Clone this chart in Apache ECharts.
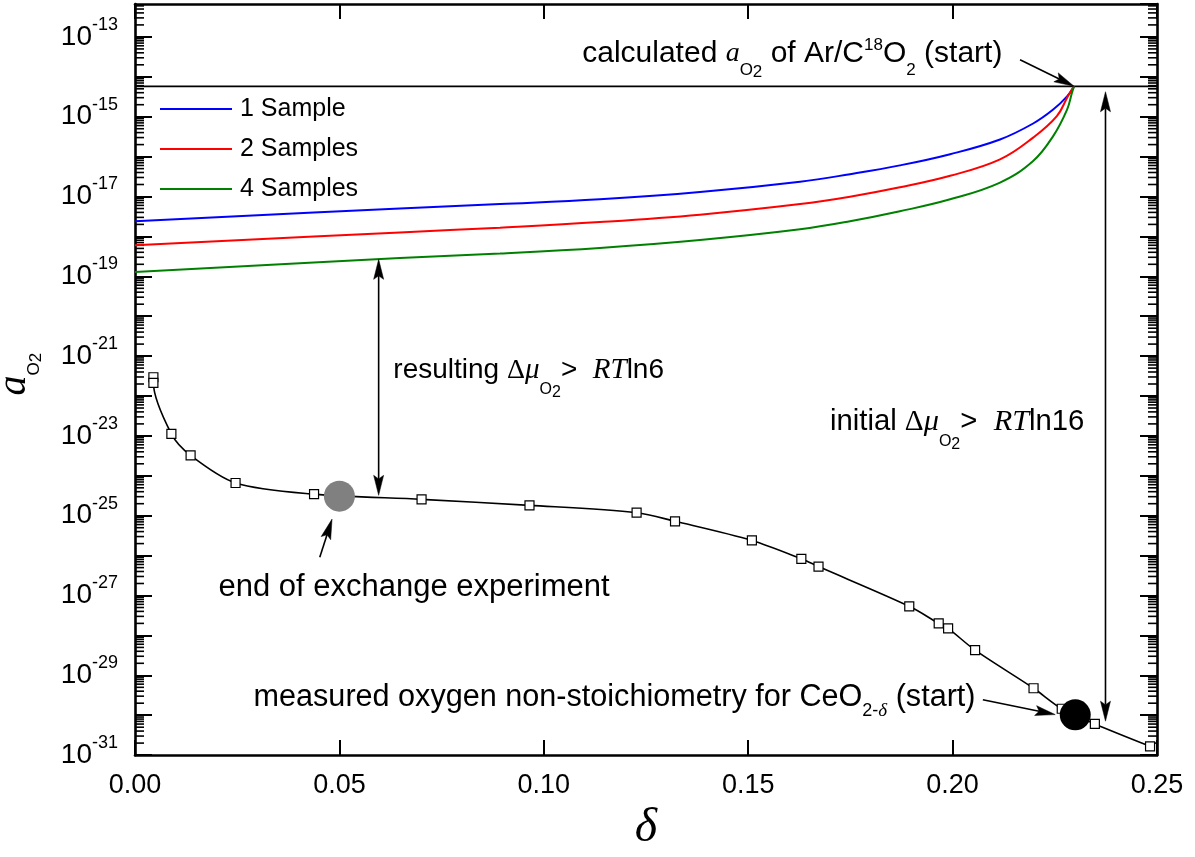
<!DOCTYPE html>
<html>
<head>
<meta charset="utf-8">
<script src="https://cdn.jsdelivr.net/npm/echarts@6/dist/echarts.min.js"></script>
<style>
html,body{margin:0;padding:0;background:#fff;}
#chart{width:1195px;height:857px;}
</style>
</head>
<body>
<div id="chart"></div>
<script>
// ---------------- data ----------------
// measured oxygen non-stoichiometry of CeO2-delta : delta vs a_O2
const deltaMeasured = [0.0045, 0.0045, 0.0089, 0.0136, 0.0246, 0.0438, 0.0701, 0.0965, 0.1227, 0.1321,
                       0.1509, 0.1630, 0.1672, 0.1894, 0.1966, 0.1989, 0.2055, 0.2198, 0.2267, 0.2348, 0.2483];
const aMeasured = [2.95e-22, 2.14e-22, 1.12e-23, 3.24e-24, 6.61e-25, 3.47e-25, 2.57e-25, 1.82e-25, 1.19e-25, 7.24e-26,
                   2.40e-26, 8.32e-27, 5.31e-27, 5.37e-28, 2.0e-28, 1.5e-28, 4.27e-29, 4.73e-30, 1.45e-30, 6.03e-31, 1.66e-31];

// calculated gas-phase a_O2 for 1, 2 and 4 samples
const delta1Sample = [0, 0.0648, 0.0893, 0.1137, 0.1382, 0.1627, 0.1749, 0.1871, 0.1994, 0.2116, 0.2197, 0.2246, 0.2280, 0.2297];
const a1Sample = [2.40e-18, 5.01e-18, 6.46e-18, 8.51e-18, 1.29e-17, 2.34e-17, 3.63e-17, 6.03e-17, 1.15e-16, 2.69e-16, 6.76e-16, 1.51e-15, 3.24e-15, 5.75e-15];
const delta2Samples = [0, 0.0648, 0.0893, 0.1137, 0.1382, 0.1627, 0.1749, 0.1871, 0.1994, 0.2116, 0.2197, 0.2255, 0.2282, 0.2297];
const a2Samples = [6.03e-19, 1.26e-18, 1.66e-18, 2.29e-18, 3.51e-18, 6.46e-18, 9.89e-18, 1.70e-17, 3.31e-17, 8.51e-17, 2.99e-16, 1.03e-15, 3.27e-15, 5.75e-15];
const delta4Samples = [0, 0.0648, 0.0893, 0.1137, 0.1382, 0.1627, 0.1749, 0.1871, 0.1994, 0.2116, 0.2197, 0.2246, 0.2280, 0.2292, 0.2297];
const a4Samples = [1.29e-19, 2.88e-19, 3.72e-19, 5.13e-19, 8.13e-19, 1.51e-18, 2.40e-18, 4.27e-18, 8.51e-18, 2.24e-17, 7.76e-17, 3.27e-16, 1.51e-15, 3.98e-15, 5.75e-15];

// calculated a_O2 of Ar/C18O2 (start) - horizontal line
const aStartGas = 5.75e-15;
const deltaRange = [0, 0.25];

// highlighted points
const endExchangePoint = [0.05, 3.09e-25];
const startSolidPoint = [0.23, 1.02e-30];

// arrows: [delta from, delta to], [a from, a to], double-headed?
const arrowDelta = [[0.0596, 0.0596], [0.2374, 0.2374], [0.2165, 0.2297], [0.2074, 0.2251], [0.0452, 0.0482]];
const arrowA = [[3.24e-25, 2.66e-19], [7.08e-31, 4.22e-15], [2.69e-14, 5.82e-15], [2.45e-30, 1.035e-30], [9.12e-27, 8.22e-26]];
const arrowDouble = [1, 1, 0, 0, 0];

// axes
const xTickValues = [0, 0.05, 0.10, 0.15, 0.20, 0.25];
const yLabelExponents = [-31, -29, -27, -25, -23, -21, -19, -17, -15, -13];
const yMinExp = -31;
const yMaxExp = -12.175;

const legendNames = ['1 Sample', '2 Samples', '4 Samples'];

// ---------------- helpers ----------------
const SANS = '"Liberation Sans", Arial, Helvetica, sans-serif';
const SERIF = '"Liberation Serif", "Times New Roman", serif';
const lg = v => Math.log10(v);
const pairs = (xs, ys) => xs.map((x, i) => [x, lg(ys[i])]);

// log-spaced minor ticks (axis decoration)
const minorTickVals = [];
for (let n = yMinExp; n < Math.ceil(yMaxExp); n++) {
  for (let k = 2; k <= 9; k++) {
    const v = n + Math.log10(k);
    if (v < yMaxExp) minorTickVals.push([0, v]);
  }
}

function rt(parts) { return parts.map(p => '{' + p[0] + '|' + p[1] + '}').join(''); }
function richSet(F, L, subF, subOff, sub2Off, supOff) {
  return {
    n:    { fontFamily: SANS, fontSize: F, lineHeight: L, fill: '#000', color: '#000' },
    it:   { fontFamily: SERIF, fontStyle: 'italic', fontSize: F + 1, lineHeight: L, fill: '#000', color: '#000' },
    ia:   { fontFamily: SERIF, fontStyle: 'italic', fontSize: F - 2, lineHeight: L, fill: '#000', color: '#000' },
    sr:   { fontFamily: SERIF, fontSize: F, lineHeight: L, fill: '#000', color: '#000' },
    sub:  { fontFamily: SANS, fontSize: subF, height: L - 2 * subOff, lineHeight: 1, verticalAlign: 'bottom', fill: '#000', color: '#000' },
    sub2: { fontFamily: SANS, fontSize: subF, height: L - 2 * sub2Off, lineHeight: 1, verticalAlign: 'bottom', fill: '#000', color: '#000' },
    subi: { fontFamily: SERIF, fontStyle: 'italic', fontSize: subF + 1, height: L - 2 * subOff, lineHeight: 1, verticalAlign: 'bottom', fill: '#000', color: '#000' },
    sup:  { fontFamily: SANS, fontSize: subF, height: L - 2 * supOff, lineHeight: 1, verticalAlign: 'top', fill: '#000', color: '#000' }
  };
}

function arrowRender(params, api) {
  const p1 = api.coord([api.value(0), api.value(1)]);
  const p2 = api.coord([api.value(2), api.value(3)]);
  const both = api.value(4) === 1;
  const hl = 20, hw = 5, notch = 0.82;
  const dx = p2[0] - p1[0], dy = p2[1] - p1[1];
  const len = Math.sqrt(dx * dx + dy * dy);
  const ux = dx / len, uy = dy / len;
  function head(tip, ex, ey) {
    const bx = tip[0] - ex * hl, by = tip[1] - ey * hl;
    const nx = -ey, ny = ex;
    return {
      type: 'polygon',
      shape: { points: [tip, [bx + nx * hw, by + ny * hw], [tip[0] - ex * hl * notch, tip[1] - ey * hl * notch], [bx - nx * hw, by - ny * hw]] },
      style: { fill: '#000', stroke: '#000', lineWidth: 0.5 }
    };
  }
  const s = both ? [p1[0] + ux * hl * notch, p1[1] + uy * hl * notch] : p1;
  const e = [p2[0] - ux * hl * notch, p2[1] - uy * hl * notch];
  const children = [
    { type: 'line', shape: { x1: s[0], y1: s[1], x2: e[0], y2: e[1] }, style: { stroke: '#000', lineWidth: 1.6 } },
    head(p2, ux, uy)
  ];
  if (both) children.push(head(p1, -ux, -uy));
  return { type: 'group', children: children };
}

function minorTickRender(params, api) {
  const v = api.value(1);
  const pl = api.coord([deltaRange[0], v]);
  const pr = api.coord([deltaRange[1], v]);
  return {
    type: 'group',
    children: [
      { type: 'line', shape: { x1: pl[0], y1: pl[1], x2: pl[0] + 9, y2: pl[1] }, style: { stroke: '#000', lineWidth: 1.6 } },
      { type: 'line', shape: { x1: pr[0], y1: pr[1], x2: pr[0] - 9, y2: pr[1] }, style: { stroke: '#000', lineWidth: 1.6 } }
    ]
  };
}

// ---------------- chart ----------------
const chart = echarts.init(document.getElementById('chart'), null, { renderer: 'canvas' });

const axisLineStyle = { color: '#000', width: 2.6 };
const yLabelRich = {
  b: { fontFamily: SANS, fontSize: 28, lineHeight: 40, color: '#000' },
  s: { fontFamily: SANS, fontSize: 18, height: 16, lineHeight: 1, verticalAlign: 'top', color: '#000' }
};

const option = {
  animation: false,
  backgroundColor: '#fff',
  grid: { left: 135, top: 4, width: 1022, height: 753, containLabel: false },
  legend: {
    data: legendNames.map(n => ({ name: n, icon: 'rect' })),
    orient: 'vertical',
    left: 155,
    top: 91,
    itemWidth: 72,
    itemHeight: 2,
    itemGap: 14,
    textStyle: { fontFamily: SANS, fontSize: 25, color: '#000', lineHeight: 26, padding: [0, 0, 0, 3] }
  },
  xAxis: [
    {
      type: 'value', min: deltaRange[0], max: deltaRange[1], interval: 0.05, position: 'bottom',
      axisLine: { show: true, onZero: false, lineStyle: axisLineStyle },
      axisTick: { show: true, inside: true, length: 15, lineStyle: { color: '#000', width: 2 } },
      axisLabel: {
        show: true, margin: 17, fontFamily: SANS, fontSize: 27, color: '#000',
        formatter: v => (xTickValues.some(t => Math.abs(t - v) < 1e-9) ? v.toFixed(2) : '')
      },
      splitLine: { show: false },
      name: 'δ', nameLocation: 'middle', nameGap: 43,
      nameTextStyle: { fontFamily: SERIF, fontStyle: 'italic', fontSize: 48, color: '#000' }
    },
    {
      type: 'value', min: deltaRange[0], max: deltaRange[1], interval: 0.05, position: 'top',
      axisLine: { show: true, onZero: false, lineStyle: axisLineStyle },
      axisTick: { show: true, inside: true, length: 15, lineStyle: { color: '#000', width: 2 } },
      axisLabel: { show: false }, splitLine: { show: false }
    }
  ],
  yAxis: [
    {
      type: 'value', min: yMinExp, max: yMaxExp, interval: 1, position: 'left',
      axisLine: { show: true, onZero: false, lineStyle: axisLineStyle },
      axisTick: { show: true, inside: true, length: 17, lineStyle: { color: '#000', width: 2 } },
      axisLabel: {
        show: true, margin: 17, showMaxLabel: false,
        formatter: v => (yLabelExponents.indexOf(Math.round(v)) >= 0 && Math.abs(v - Math.round(v)) < 1e-9
          ? '{b|10}{s|' + Math.round(v) + '}' : ''),
        rich: yLabelRich
      },
      splitLine: { show: false }
    },
    {
      type: 'value', min: yMinExp, max: yMaxExp, interval: 1, position: 'right',
      axisLine: { show: true, onZero: false, lineStyle: axisLineStyle },
      axisTick: { show: true, inside: true, length: 17, lineStyle: { color: '#000', width: 2 } },
      axisLabel: { show: false }, splitLine: { show: false }
    }
  ],
  series: [
    {
      name: 'minor ticks', type: 'custom', xAxisIndex: 0, yAxisIndex: 0,
      renderItem: minorTickRender, data: minorTickVals, silent: true, clip: false, z: 1
    },
    {
      name: 'start gas', type: 'line', data: [[deltaRange[0], lg(aStartGas)], [deltaRange[1], lg(aStartGas)]],
      symbol: 'none', lineStyle: { color: '#000', width: 1.8 }, z: 2
    },
    {
      name: legendNames[0], type: 'line', data: pairs(delta1Sample, a1Sample), smooth: 0.4,
      symbol: 'none', color: '#0000ff', itemStyle: { color: '#0000ff' }, lineStyle: { color: '#0000ff', width: 2 }, z: 3
    },
    {
      name: legendNames[1], type: 'line', data: pairs(delta2Samples, a2Samples), smooth: 0.4,
      symbol: 'none', color: '#ff0000', itemStyle: { color: '#ff0000' }, lineStyle: { color: '#ff0000', width: 2 }, z: 3
    },
    {
      name: legendNames[2], type: 'line', data: pairs(delta4Samples, a4Samples), smooth: 0.4,
      symbol: 'none', color: '#008000', itemStyle: { color: '#008000' }, lineStyle: { color: '#008000', width: 2 }, z: 3
    },
    {
      name: 'measured', type: 'line', data: pairs(deltaMeasured, aMeasured), smooth: 0.3,
      symbol: 'rect', symbolSize: 9, showAllSymbol: true,
      itemStyle: { color: '#fff', borderColor: '#000', borderWidth: 1.2 },
      lineStyle: { color: '#000', width: 1.6 }, z: 4
    },
    {
      name: 'points', type: 'scatter', symbolSize: 31,
      data: [
        { value: [endExchangePoint[0], lg(endExchangePoint[1])], itemStyle: { color: '#808080', opacity: 1 } },
        { value: [startSolidPoint[0], lg(startSolidPoint[1])], itemStyle: { color: '#000', opacity: 1 } }
      ],
      itemStyle: { opacity: 1 }, z: 5
    },
    {
      name: 'arrows', type: 'custom', renderItem: arrowRender, silent: true, clip: false,
      encode: { x: [0, 2], y: [1, 3] },
      data: arrowDelta.map((d, i) => [d[0], lg(arrowA[i][0]), d[1], lg(arrowA[i][1]), arrowDouble[i]]), z: 6
    }
  ]
};
chart.setOption(option);

// ---------------- annotations (anchored in data coordinates) ----------------
function px(delta, logA) { return chart.convertToPixel({ gridIndex: 0 }, [delta, logA]); }

const annots = [
  { at: [0.1094, -13.42], rich: richSet(30, 48, 17, 17, 19, 8),
    text: rt([['n', 'calculated '], ['ia', 'a'], ['sub', 'O'], ['sub2', '2'], ['n', ' of Ar/C'], ['sup', '18'], ['n', 'O'], ['sub', '2'], ['n', ' (start)']]) },
  { at: [0.0632, -21.36], rich: richSet(28, 54, 16, 19, 22, 8),
    text: rt([['n', 'resulting '], ['sr', 'Δ'], ['it', 'μ'], ['sub', 'O'], ['sub2', '2'], ['n', '>  '], ['it', 'RT'], ['n', 'ln6']]) },
  { at: [0.1700, -22.66], rich: richSet(29.3, 54, 16, 19, 22, 8),
    text: rt([['n', 'initial '], ['sr', 'Δ'], ['it', 'μ'], ['sub', 'O'], ['sub2', '2'], ['n', '>  '], ['it', 'RT'], ['n', 'ln16']]) },
  { at: [0.0204, -26.80], rich: richSet(31, 40, 17, 13, 15, 8),
    text: rt([['n', 'end of exchange experiment']]) },
  { at: [0.0290, -29.57], rich: richSet(30.6, 48, 18, 13, 15, 8),
    text: rt([['n', 'measured oxygen non-stoichiometry for CeO'], ['sub', '2-'], ['subi', 'δ'], ['n', ' (start)']]) }
];

const graphics = annots.map(a => {
  const p = px(a.at[0], a.at[1]);
  return {
    type: 'text', x: p[0], y: p[1], z: 10, silent: true,
    style: { text: a.text, rich: a.rich, align: 'left', verticalAlign: 'middle', fill: '#000', fontFamily: SANS, fontSize: 26 }
  };
});

// y-axis title a_O2 (rotated)
const yNameRich = {
  a: { fontFamily: SERIF, fontStyle: 'italic', fontSize: 40, lineHeight: 50, fill: '#000' },
  o: { fontFamily: SANS, fontSize: 17, height: 11, lineHeight: 1, verticalAlign: 'bottom', fill: '#000' },
  t: { fontFamily: SANS, fontSize: 17, height: 7, lineHeight: 1, verticalAlign: 'bottom', fill: '#000' }
};
const yNamePos = px(-0.0295, -21.45);
graphics.push({
  type: 'text', x: yNamePos[0], y: yNamePos[1], rotation: Math.PI / 2, z: 10, silent: true,
  style: { text: '{a|a}{o|O}{t|2}', rich: yNameRich, align: 'center', verticalAlign: 'middle', fill: '#000' }
});

chart.setOption({ graphic: graphics });
</script>
</body>
</html>
